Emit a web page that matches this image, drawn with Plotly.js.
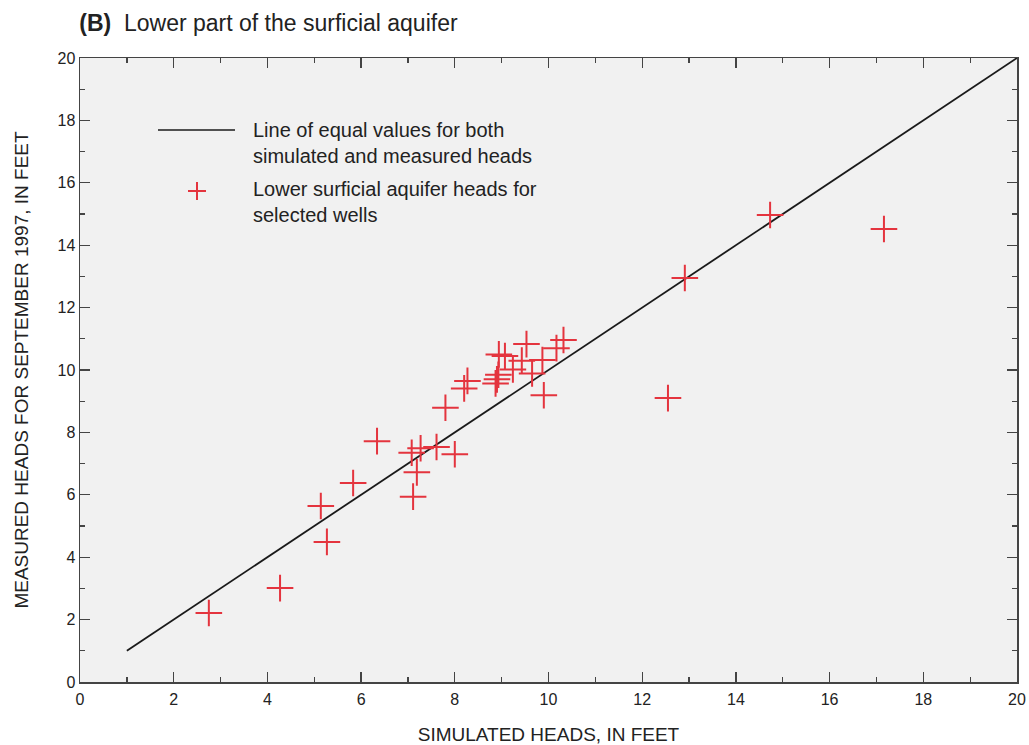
<!DOCTYPE html>
<html>
<head>
<meta charset="utf-8">
<script src="https://cdn.plot.ly/plotly-3.0.1.min.js"></script>
<style>html,body{margin:0;padding:0;background:#fff;}#chart{width:1029px;height:745px;}</style>
</head>
<body>
<div id="chart"></div>
<script>
// Line of equal values
const equalX = [1, 20];
const equalY = [1, 20];
// Lower surficial aquifer heads for selected wells
const simulatedHeads = [2.75, 4.27, 5.27, 5.14, 5.83, 6.34, 7.11, 7.19, 7.08, 7.27, 7.61, 8.00, 7.80, 8.20, 8.27, 8.87, 8.90, 8.93, 8.94, 9.07, 9.24, 9.43, 9.53, 9.65, 9.87, 9.90, 10.17, 10.32, 12.55, 12.91, 14.73, 17.16];
const measuredHeads  = [2.21, 3.01, 4.49, 5.64, 6.38, 7.72, 5.94, 6.72, 7.35, 7.49, 7.53, 7.30, 8.79, 9.41, 9.65, 9.57, 9.70, 9.85, 10.50, 10.45, 10.02, 10.30, 10.83, 9.89, 10.32, 9.19, 10.70, 10.96, 9.10, 12.95, 14.97, 14.52];
const tickVals = [0, 2, 4, 6, 8, 10, 12, 14, 16, 18, 20];
const legendLabels = ["Line of equal values for both<br>simulated and measured heads", "Lower surficial aquifer heads for<br>selected wells"];

const red = 'rgb(228,52,62)';
const font = 'Liberation Sans, Arial, Helvetica, sans-serif';
const ink = '#222';
const frame = '#444';

const traces = [
  {x: equalX, y: equalY, mode: 'lines', line: {color: '#1a1a1a', width: 1.8}, showlegend: false, hoverinfo: 'skip'},
  {x: simulatedHeads, y: measuredHeads, mode: 'markers', marker: {symbol: 'cross-thin-open', size: 19, color: red, line: {color: red, width: 2}}, showlegend: false}
];

const axisCommon = {
  range: [0, 20], tickvals: tickVals, ticks: 'inside', ticklen: 10, tickwidth: 1.3, tickcolor: frame,
  minor: {dtick: 1, tick0: 0, ticks: 'inside', ticklen: 5, tickwidth: 1.3, tickcolor: frame, showgrid: false},
  mirror: 'ticks', showline: true, linecolor: frame, linewidth: 1.5, showgrid: false, zeroline: false,
  tickfont: {family: font, size: 16, color: ink}
};

const layout = {
  width: 1029, height: 745,
  margin: {l: 80, r: 12, t: 58, b: 63},
  paper_bgcolor: '#fff', plot_bgcolor: '#f1f1f1',
  showlegend: false,
  title: {text: '<b>(B)</b>  Lower part of the surficial aquifer', x: 0.077, xanchor: 'left', y: 0.969, yanchor: 'middle',
          font: {family: font, size: 23, color: ink}},
  xaxis: Object.assign({}, axisCommon, {ticklabelstandoff: 2, title: {text: 'SIMULATED HEADS, IN FEET', font: {family: font, size: 19, color: ink}, standoff: 22}}),
  yaxis: Object.assign({}, axisCommon, {title: {text: 'MEASURED HEADS FOR SEPTEMBER 1997, IN FEET', font: {family: font, size: 19, color: ink}, standoff: 24}}),
  shapes: [
    {type: 'line', xref: 'paper', yref: 'paper', x0: 78/937, x1: 155/937, y0: 552/624, y1: 552/624, line: {color: '#1a1a1a', width: 1.5}},
    {type: 'line', xref: 'paper', yref: 'paper', x0: 108/937, x1: 126/937, y0: 491/624, y1: 491/624, line: {color: red, width: 2}},
    {type: 'line', xref: 'paper', yref: 'paper', x0: 117/937, x1: 117/937, y0: 482/624, y1: 500/624, line: {color: red, width: 2}}
  ],
  annotations: [
    {xref: 'paper', yref: 'paper', x: 171/937, y: 539/624, xanchor: 'left', yanchor: 'middle', align: 'left', showarrow: false,
     text: legendLabels[0], font: {family: font, size: 20, color: ink}},
    {xref: 'paper', yref: 'paper', x: 171/937, y: 479.5/624, xanchor: 'left', yanchor: 'middle', align: 'left', showarrow: false,
     text: legendLabels[1], font: {family: font, size: 20, color: ink}}
  ]
};

Plotly.newPlot('chart', traces, layout, {displayModeBar: false, staticPlot: true});
</script>
</body>
</html>
